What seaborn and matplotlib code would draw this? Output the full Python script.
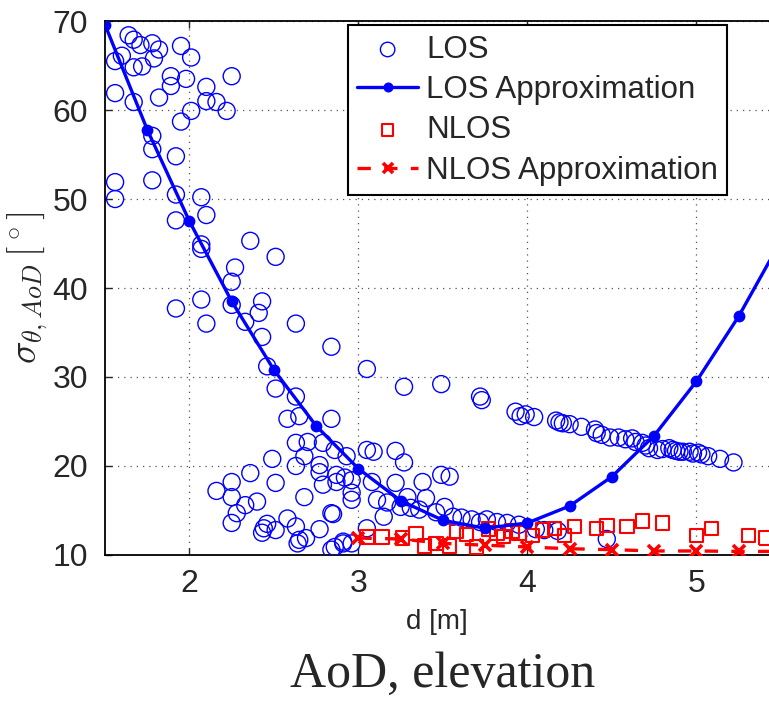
import numpy as np
import pandas as pd
import matplotlib
matplotlib.use("Agg")
import matplotlib.pyplot as plt
import seaborn as sns

# LOS measurements (d [m], sigma [deg])
los_d = [1.64, 1.67, 1.71, 1.78, 1.82, 1.79, 1.60, 1.56, 1.67, 1.72, 1.95, 2.01, 1.89, 1.89, 1.98,
         2.25, 2.10, 2.10, 2.16, 2.22, 2.01, 1.95, 1.82, 1.67, 1.56, 1.78, 1.78, 1.92, 1.56, 1.78,
         1.92, 1.56, 2.07,
         2.10, 1.92, 2.07, 2.07, 2.36, 2.51, 2.27, 2.25, 1.92, 2.07, 2.10, 2.25, 2.43, 2.41, 2.33,
         2.43, 2.63, 2.46, 2.51, 2.84, 3.05, 3.27, 3.49, 3.72, 3.73, 3.93, 3.96, 3.99, 4.04, 4.17,
         4.19, 4.21, 4.25, 4.32, 4.40, 4.41, 4.44, 4.49, 4.54, 4.62, 4.64, 4.68, 4.72, 4.77, 4.84,
         4.88, 4.92, 4.96, 5.01, 5.07, 5.14, 5.22, 4.58, 4.70, 4.80, 4.86, 4.90, 4.98, 5.03,
         4.47, 4.10, 4.18, 4.05,
         3.05, 3.09, 3.22, 3.27, 3.49, 3.54, 3.22, 3.38, 2.93, 3.08, 2.96, 2.96, 3.11, 3.29, 3.40,
         3.17, 3.25, 3.31, 3.15, 3.36, 3.46, 3.51, 3.56, 3.61, 3.67, 3.72, 3.76, 3.82, 3.88, 3.95,
         3.05, 2.91, 2.96,
         2.63, 2.58, 2.65, 2.84, 2.63, 2.70, 2.79, 2.86, 2.68, 2.49, 2.63, 2.77, 2.77, 2.87, 2.92,
         2.96, 2.36, 2.25, 2.16, 2.25, 2.51, 2.79, 2.87, 2.40, 2.33, 2.28, 2.68, 2.25, 2.84, 2.85,
         2.58, 2.46, 2.44, 2.43, 2.51, 2.63, 2.69, 2.65, 2.77, 2.64, 2.91, 2.84, 2.86]
los_sigma = [68.4, 67.9, 67.3, 67.5, 66.8, 65.8, 66.1, 65.5, 64.8, 64.9, 67.2, 65.9, 63.8, 62.7, 63.5,
             63.8, 62.6, 61.0, 60.9, 59.9, 59.9, 58.7, 61.4, 60.9, 61.9, 57.1, 55.6, 54.8, 51.9, 52.1,
             50.5, 50.0, 50.2,
             48.2, 47.6, 44.9, 44.4, 45.3, 43.5, 42.3, 40.7, 37.7, 38.7, 36.0, 38.1, 38.5, 37.2, 36.2,
             34.5, 36.0, 31.2, 28.7, 33.4, 30.9, 28.9, 29.2, 27.8, 27.4, 26.1, 25.6, 25.8, 25.5, 25.1,
             24.9, 24.8, 24.7, 24.4, 24.1, 23.7, 23.5, 23.2, 23.2, 23.1, 22.7, 22.6, 22.0, 21.8, 22.0,
             21.7, 21.6, 21.6, 21.5, 21.1, 20.8, 20.4, 23.0, 22.3, 21.9, 21.8, 21.6, 21.4, 21.3,
             11.8, 12.8, 12.7, 12.9,
             21.8, 21.6, 21.7, 20.4, 19.0, 18.8, 18.1, 18.2, 21.1, 18.2, 17.0, 16.2, 16.2, 16.5, 16.4,
             15.9, 15.4, 15.3, 14.3, 15.1, 14.8, 15.4, 14.3, 14.2, 14.0, 13.7, 14.0, 13.7, 13.6, 13.4,
             13.0, 11.3, 11.3,
             27.8, 25.3, 25.6, 25.3, 22.6, 22.7, 22.6, 21.8, 21.1, 20.8, 20.0, 20.1, 19.3, 19.0, 18.7,
             18.4, 19.2, 18.2, 17.2, 16.5, 18.1, 17.9, 18.2, 16.0, 15.6, 14.7, 16.5, 13.6, 14.7, 14.6,
             14.1, 13.5, 13.0, 12.5, 12.8, 13.2, 11.9, 11.7, 12.9, 11.3, 11.5, 10.6, 10.9]

# NLOS measurements
nlos_d = [3.05, 3.14, 3.26, 3.34, 3.39, 3.46, 3.54, 3.58, 3.64, 3.70, 3.77, 3.82, 3.86, 3.91, 3.95,
          4.03, 4.09, 4.16, 4.22, 4.28, 4.41, 4.47, 4.59, 4.68, 4.80, 5.00, 5.09, 5.31, 5.41]
nlos_sigma = [12.0, 12.0, 11.9, 12.4, 11.0, 11.3, 11.0, 12.7, 12.3, 10.9, 12.9, 12.5, 12.1, 12.7, 12.5,
              12.2, 12.8, 13.0, 12.2, 13.2, 13.0, 13.3, 13.2, 13.8, 13.6, 12.2, 13.0, 12.2, 11.9]

# approximations
los_fit_d = [1.5, 1.75, 2.0, 2.25, 2.5, 2.75, 3.0, 3.25, 3.5, 3.75, 4.0, 4.25, 4.5, 4.75, 5.0, 5.25, 5.5]
los_fit_sigma = [69.6, 57.8, 47.5, 38.5, 30.8, 24.5, 19.7, 16.1, 13.9, 13.0, 13.6, 15.5, 18.8, 23.4,
                 29.5, 36.8, 45.3]
nlos_fit_d = [3.0, 3.25, 3.5, 3.75, 4.0, 4.25, 4.5, 4.75, 5.0, 5.25, 5.5]
nlos_fit_sigma = [11.9, 11.8, 11.3, 11.1, 10.9, 10.7, 10.6, 10.45, 10.45, 10.4, 10.4]

sns.set_style("ticks")
plt.rcParams['font.family'] = ['Liberation Sans', 'DejaVu Sans']
plt.rcParams['mathtext.fontset'] = 'cm'

fig = plt.figure(figsize=(7.69, 7.01), dpi=100)
ax = fig.add_axes([0.1365, 0.2083, 0.8635, 0.7617])

sns.scatterplot(x=los_d, y=los_sigma, ax=ax, marker='o', s=150, facecolors='none',
                edgecolor='#0000ff', linewidth=1.0, label='LOS', zorder=3)
sns.lineplot(x=los_fit_d, y=los_fit_sigma, ax=ax, color='#0000ff', lw=2.4, marker='o',
             markersize=8.5, markeredgewidth=0, label='LOS Approximation', zorder=4)
sns.scatterplot(x=nlos_d, y=nlos_sigma, ax=ax, marker='s', s=95, facecolors='none',
                edgecolor='#ff0000', linewidth=1.5, label='NLOS', zorder=3)
sns.lineplot(x=nlos_fit_d, y=nlos_fit_sigma, ax=ax, color='#ff0000', lw=2.4, ls=(0, (4, 4)),
             marker='x', markersize=9, markeredgewidth=2.6, markeredgecolor='#ff0000',
             label='NLOS Approximation', zorder=4)

ax.set_xlim(1.5, 5.43)
ax.set_ylim(10, 70)
ax.set_xticks([2, 3, 4, 5])
ax.set_yticks([10, 20, 30, 40, 50, 60, 70])
ax.grid(True, ls=(0, (1, 4)), color='#555555', lw=0.9)
ax.tick_params(direction='in', top=True, right=False, labelsize=23, length=5, width=1)
ax.tick_params(axis='y', pad=12)
ax.tick_params(axis='x', pad=10)
for s in ['left', 'bottom', 'top']:
    ax.spines[s].set_linewidth(1.3)
    ax.spines[s].set_color('black')
ax.spines['right'].set_visible(False)

ax.set_xlabel('d [m]', fontsize=20, labelpad=7)
ax.set_ylabel(r'$\sigma_{\theta,AoD}\,[^\circ]$', fontsize=27, labelpad=2)

leg = ax.legend(loc='upper right', bbox_to_anchor=(0.937, 0.992), borderaxespad=0,
                fontsize=22.5, frameon=True, fancybox=False, edgecolor='black',
                handlelength=1.95, handletextpad=0.25, labelspacing=0.33, borderpad=0.3,
                markerscale=0.85)
leg.get_frame().set_linewidth(1.5)
leg.get_frame().set_alpha(1)

fig.text(0.575, 0.005, 'AoD, elevation', ha='center', va='bottom', fontsize=36,
         family=['Liberation Serif', 'DejaVu Serif'])

fig.savefig('out.png', dpi=100)
